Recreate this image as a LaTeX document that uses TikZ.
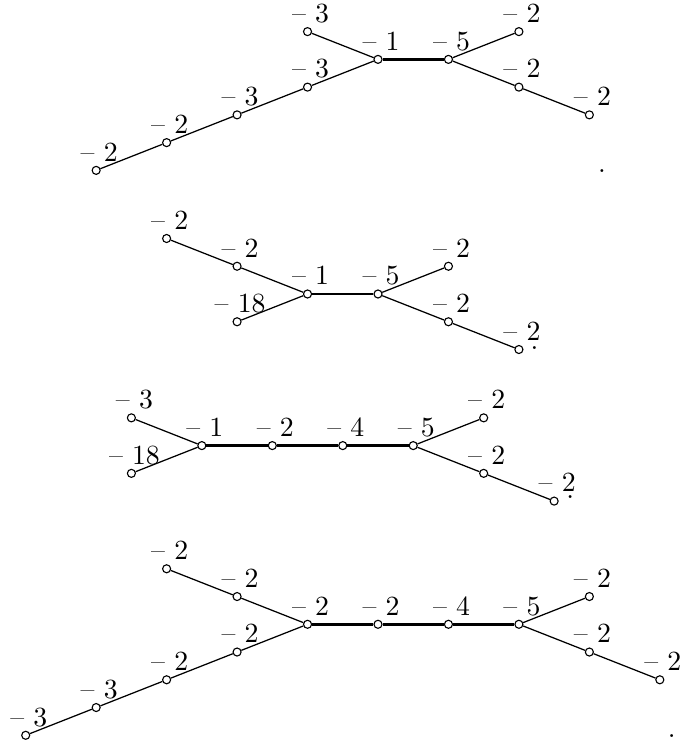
\documentclass[tikz,border=0pt]{standalone}
\begin{document}
\begin{tikzpicture}[x=25.39pt, y=-10pt,
  v/.style={circle, draw, fill=white, inner sep=0pt, minimum size=2.9pt, line width=0.4pt},
  lab/.style={anchor=base, xshift=1.1pt, yshift=3.3pt, inner sep=0pt},
  dotlab/.style={anchor=base, inner sep=0pt},
  thin/.style={line width=0.45pt},
  thick/.style={line width=0.9pt}]
\useasboundingbox (-0.3648,0) rectangle (9.2733,26.667);
\newcommand\vx[3]{\node[v] (#1) at (#2) {}; \node[lab] (#1l) at (#1) {\textendash\ #3};}
% Diagram 1
\begin{scope}[shift={(0,2.14)}]
  \vx{a1}{4,-1}{3}
  \vx{a2}{5,0}{1}
  \vx{a3}{6,0}{5}
  \vx{a4}{7,-1}{2}
  \vx{a5}{7,1}{2}
  \vx{a6}{8,2}{2}
  \vx{a7}{4,1}{3}
  \vx{a8}{3,2}{3}
  \vx{a9}{2,3}{2}
  \vx{a10}{1,4}{2}
  \node[dotlab] (ap) at (8.18,4.07) {.};
  \draw[thin] (a1) -- (a2);
  \draw[thin] (a10) -- (a9) -- (a8) -- (a7) -- (a2);
  \draw[thick] (a2) -- (a3);
  \draw[thin] (a3) -- (a4);
  \draw[thin] (a3) -- (a5) -- (a6);
\end{scope}
% Diagram 2
\begin{scope}[shift={(0,10.595)}]
  \vx{b1}{2,-2}{2}
  \vx{b2}{3,-1}{2}
  \vx{b3}{4,0}{1}
  \vx{b4}{3,1}{18}
  \vx{b5}{5,0}{5}
  \vx{b6}{6,-1}{2}
  \vx{b7}{6,1}{2}
  \vx{b8}{7,2}{2}
  \node[dotlab] (bp) at (7.22,2.01) {.};
  \draw[thin] (b1) -- (b2) -- (b3);
  \draw[thin] (b4) -- (b3);
  \draw[thick] (b3) -- (b5);
  \draw[thin] (b5) -- (b6);
  \draw[thin] (b5) -- (b7) -- (b8);
\end{scope}
% Diagram 3
\begin{scope}[shift={(0,16.058)}]
  \vx{c1}{1.5,-1}{3}
  \vx{c2}{2.5,0}{1}
  \vx{c3}{1.5,1}{18}
  \vx{c4}{3.5,0}{2}
  \vx{c5}{4.5,0}{4}
  \vx{c6}{5.5,0}{5}
  \vx{c7}{6.5,-1}{2}
  \vx{c8}{6.5,1}{2}
  \vx{c9}{7.5,2}{2}
  \node[dotlab] (cp) at (7.73,1.9) {.};
  \draw[thin] (c1) -- (c2);
  \draw[thin] (c3) -- (c2);
  \draw[thick] (c2) -- (c4) -- (c5) -- (c6);
  \draw[thin] (c6) -- (c7);
  \draw[thin] (c6) -- (c8) -- (c9);
\end{scope}
% Diagram 4
\begin{scope}[shift={(0,22.497)}]
  \vx{d1}{2,-2}{2}
  \vx{d2}{3,-1}{2}
  \vx{d3}{4,0}{2}
  \vx{d4}{3,1}{2}
  \vx{d5}{2,2}{2}
  \vx{d6}{1,3}{3}
  \vx{d7}{0,4}{3}
  \vx{d8}{5,0}{2}
  \vx{d9}{6,0}{4}
  \vx{d10}{7,0}{5}
  \vx{d11}{8,-1}{2}
  \vx{d12}{8,1}{2}
  \vx{d13}{9,2}{2}
  \node[dotlab] (dp) at (9.17,4.08) {.};
  \draw[thin] (d1) -- (d2) -- (d3);
  \draw[thin] (d7) -- (d6) -- (d5) -- (d4) -- (d3);
  \draw[thick] (d3) -- (d8) -- (d9) -- (d10);
  \draw[thin] (d10) -- (d11);
  \draw[thin] (d10) -- (d12) -- (d13);
\end{scope}
\end{tikzpicture}
\end{document}
